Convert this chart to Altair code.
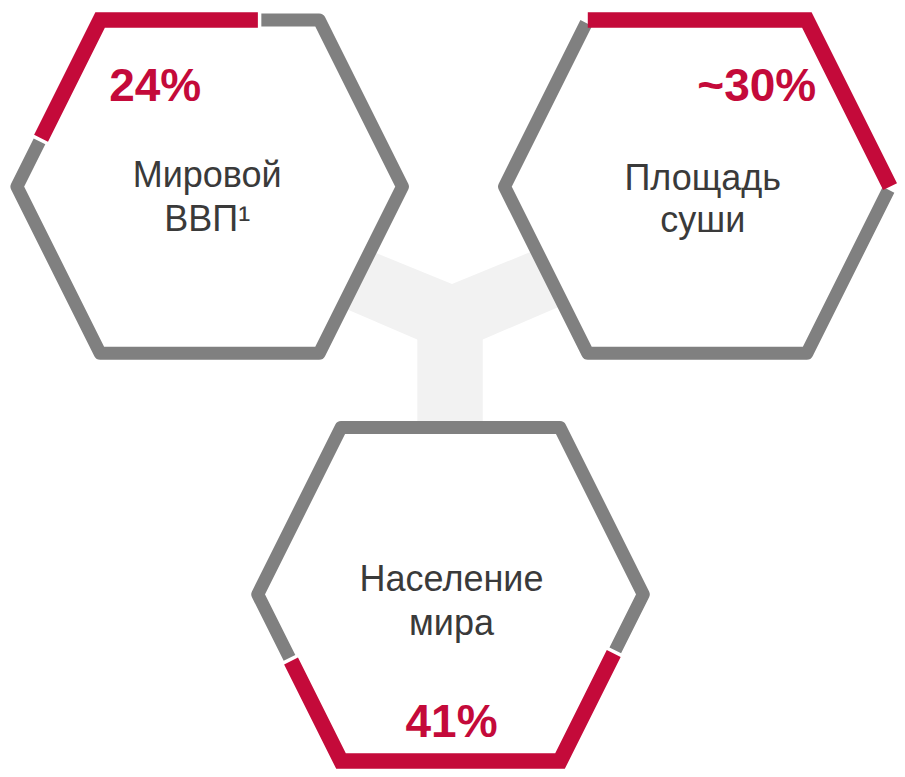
import altair as alt
import numpy as np
import pandas as pd

# ---- data ----
label_line1 = ["Мировой", "Площадь", "Население"]
label_line2 = ["ВВП¹", "суши", "мира"]
share_text = ["24%", "~30%", "41%"]
# red arc along each hexagon outline: edge index + fraction
# (edges run clockwise from the top-left corner)
red_start = [5.29, 0.0, 2.355]
red_end = [6.72, 2.0, 4.60]

# ---- layout (pixel-like coordinates of the reference) ----
hex_cx = [211.5, 703.5, 454.5]
hex_cy = [188.5, 188.5, 600.5]
HALF_W, HALF_TOP, HALF_H = 194.5, 110.5, 168.5
GAP = 3.5

share_x = [156.5, 763.5, 455.5]
share_y = [102, 102, 745]
lab_x = [209, 709, 455.5]
lab1_y = [189, 191.7, 596.7]
lab2_y = [233.3, 234, 641.5]

RED = "#C40A3A"
GRAY = "#808080"
LIGHT = "#F2F2F2"
TEXT = "#3a3a3a"


def hex_vertices(cx, cy):
    return np.array([
        (cx - HALF_TOP, cy - HALF_H), (cx + HALF_TOP, cy - HALF_H),
        (cx + HALF_W, cy), (cx + HALF_TOP, cy + HALF_H),
        (cx - HALF_TOP, cy + HALF_H), (cx - HALF_W, cy)])


def outline_path(V, s0, s1):
    lens = np.array([np.linalg.norm(V[(i + 1) % 6] - V[i]) for i in range(6)])
    cum = np.concatenate([[0], np.cumsum(lens)])
    P = cum[-1]

    def pt(s):
        sm = s % P
        e = int(np.searchsorted(cum, sm, side="right") - 1)
        e = min(e, 5)
        f = (sm - cum[e]) / lens[e]
        return V[e] + f * (V[(e + 1) % 6] - V[e])

    ss = [s0]
    for n in range(-1, 3):
        for e in range(6):
            v = cum[e] + n * P
            if s0 + 1e-6 < v < s1 - 1e-6:
                ss.append(v)
    ss.append(s1)
    ss = sorted(ss)
    return [pt(s) for s in ss]


def t_to_s(V, t):
    lens = np.array([np.linalg.norm(V[(i + 1) % 6] - V[i]) for i in range(6)])
    cum = np.concatenate([[0], np.cumsum(lens)])
    k = int(np.floor(t))
    f = t - k
    return (k // 6) * cum[-1] + cum[k % 6] + f * lens[k % 6], cum[-1]


red_rows, gray_rows, fill_rows = [], [], []
for h in range(3):
    V = hex_vertices(hex_cx[h], hex_cy[h])
    a, P = t_to_s(V, red_start[h])
    b, _ = t_to_s(V, red_end[h])
    for i, p in enumerate(outline_path(V, a, b)):
        red_rows.append({"x": p[0], "y": p[1], "seg": h, "ord": i})
    for i, p in enumerate(outline_path(V, b + GAP, a + P - GAP)):
        gray_rows.append({"x": p[0], "y": p[1], "seg": h, "ord": i})
    # white interior: top and bottom boundary at L, TL, TR, R
    for vx, top, bot in [(V[5][0], V[5][1], V[5][1]), (V[0][0], V[0][1], V[4][1]),
                         (V[1][0], V[1][1], V[3][1]), (V[2][0], V[2][1], V[2][1])]:
        fill_rows.append({"x": vx, "y": top, "y2": bot, "seg": h})

red_df = pd.DataFrame(red_rows)
gray_df = pd.DataFrame(gray_rows)
fill_df = pd.DataFrame(fill_rows)

# connector "Y" behind the hexagons
notch_x, notch_y = 456, 287
stem_l, stem_r, stem_top, stem_bot = 421, 487, 287, 440
arm_top_slope, arm_bot_slope = 0.41, 0.43
arm_rows = []
for side, xs in [("l", [330, notch_x]), ("r", [notch_x, 580])]:
    for xv in xs:
        top = notch_y - arm_top_slope * abs(notch_x - xv)
        if side == "l":
            bot = 343 - arm_bot_slope * (stem_l - xv)
        else:
            bot = 343 + arm_bot_slope * (xv - stem_r) * -1
        arm_rows.append({"x": xv, "y": top, "y2": bot, "seg": side})
arm_df = pd.DataFrame(arm_rows)
stem_df = pd.DataFrame([{"x": stem_l, "x2": stem_r, "y": stem_top, "y2": stem_bot}])

share_df = pd.DataFrame({"x": share_x, "y": share_y, "t": share_text})
lab_df = pd.DataFrame({
    "x": lab_x + lab_x, "y": lab1_y + lab2_y, "t": label_line1 + label_line2})

xs = alt.Scale(domain=[8, 905], nice=False, zero=False)
ys = alt.Scale(domain=[8, 777], nice=False, zero=False, reverse=True)
X = alt.X("x:Q", scale=xs, axis=None)
Y = alt.Y("y:Q", scale=ys, axis=None)

arms = alt.Chart(arm_df).mark_area(color=LIGHT).encode(
    x=X, y=Y, y2="y2:Q", detail="seg:N")
stem = alt.Chart(stem_df).mark_rect(color=LIGHT).encode(
    x=X, x2="x2:Q", y=Y, y2="y2:Q")
fills = alt.Chart(fill_df).mark_area(color="white").encode(
    x=X, y=Y, y2="y2:Q", detail="seg:N")
gray = alt.Chart(gray_df).mark_line(
    color=GRAY, strokeWidth=13, strokeJoin="round", strokeCap="butt").encode(
    x=X, y=Y, detail="seg:N", order="ord:Q")
red = alt.Chart(red_df).mark_line(
    color=RED, strokeWidth=15.5, strokeJoin="miter", strokeCap="butt").encode(
    x=X, y=Y, detail="seg:N", order="ord:Q")
shares = alt.Chart(share_df).mark_text(
    font="Liberation Sans", fontSize=46, fontWeight="bold", color=RED,
    align="center", baseline="alphabetic").encode(x=X, y=Y, text="t:N")
labels = alt.Chart(lab_df).mark_text(
    font="Liberation Sans", fontSize=36, color=TEXT,
    align="center", baseline="alphabetic").encode(x=X, y=Y, text="t:N")

chart = alt.layer(arms, stem, fills, gray, red, shares, labels).properties(
    width=889, height=761, padding=0,
    autosize=alt.AutoSizeParams(type="none"),
    background="white",
).configure_view(stroke=None)

chart.save("out.html", embed_options={"renderer": "svg", "actions": False})
